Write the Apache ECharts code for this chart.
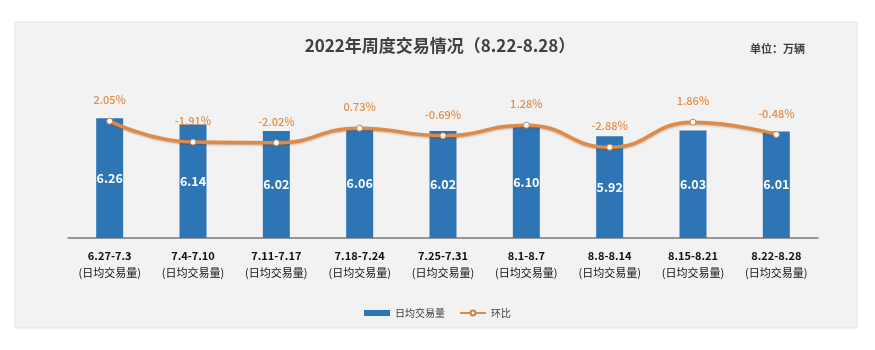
<!DOCTYPE html>
<html><head><meta charset="utf-8">
<script src="https://cdn.jsdelivr.net/npm/echarts@6/dist/echarts.min.js"></script>
<style>html,body{margin:0;padding:0;background:#fff}#c{width:875px;height:350px}</style>
</head><body><div id="c"></div>
<script>
const categories = ['6.27-7.3','7.4-7.10','7.11-7.17','7.18-7.24','7.25-7.31','8.1-8.7','8.8-8.14','8.15-8.21','8.22-8.28'];
const subLabel = '(日均交易量)';
const volume = [6.26, 6.14, 6.02, 6.06, 6.02, 6.10, 5.92, 6.03, 6.01];
const change = [2.05, -1.91, -2.02, 0.73, -0.69, 1.28, -2.88, 1.86, -0.48];
const titleText = '2022年周度交易情况（8.22-8.28）';
const unitText = '单位：万辆';

const FONT = '"Noto Sans CJK SC", "Noto Sans", sans-serif';
const chart = echarts.init(document.getElementById('c'), null, {renderer:'canvas'});
chart.setOption({
  backgroundColor: '#ffffff',
  textStyle: {fontFamily: FONT},
  animation: false,
  graphic: [{
    type: 'rect', z: -10, silent: true,
    shape: {x: 15, y: 22, width: 842, height: 306},
    style: {fill: '#f2f2f2', stroke: '#e2e2e2', lineWidth: 1}
  }],
  title: [{
    text: titleText, left: 435, top: 32, textAlign: 'center',
    textStyle: {fontSize: 17, fontWeight: 'bold', color: '#404040', fontFamily: FONT}
  },{
    text: unitText, left: 745, top: 38,
    textStyle: {fontSize: 11, fontWeight: 'bold', color: '#404040', fontFamily: FONT}
  }],
  legend: {
    bottom: 27, left: 'center', itemGap: 14, itemWidth: 26, itemHeight: 6,
    textStyle: {fontSize: 10, color: '#404040', fontFamily: FONT},
    data: [
      {name: '日均交易量', icon: 'rect', itemStyle:{color:'#2e75b6'}},
      {name: '环比'}
    ]
  },
  grid: {left: 68, right: 57, top: 26, bottom: 112},
  xAxis: {
    type: 'category', data: categories,
    axisTick: {show: false},
    axisLine: {onZero: false, lineStyle: {color: '#7a7a7a', width: 1.5}},
    axisLabel: {
      margin: 9, interval: 0, lineHeight: 17,
      formatter: v => '{a|' + v + '}\n{b|' + subLabel + '}',
      rich: {
        a: {fontSize: 11, fontWeight: 'bold', color: '#111', fontFamily: FONT, lineHeight: 17},
        b: {fontSize: 11, color: '#111', fontFamily: FONT, lineHeight: 17}
      }
    }
  },
  yAxis: [
    {type: 'value', min: 4, max: 8, show: false, splitLine: {show: false}},
    {type: 'value', min: -20, max: 20, show: false, splitLine: {show: false}}
  ],
  series: [{
    name: '日均交易量', type: 'bar', data: volume, barWidth: 27,
    itemStyle: {color: '#2e75b6'},
    label: {show: true, position: 'inside', color: '#fff', fontWeight: 'bold', fontSize: 12.5,
      fontFamily: FONT, formatter: p => p.value.toFixed(2)}
  },{
    name: '环比', type: 'line', yAxisIndex: 1, data: change, smooth: 0.5,
    symbol: 'circle', symbolSize: 6, z: 5,
    lineStyle: {color: '#df8a47', width: 3.5, shadowColor: 'rgba(120,60,20,0.4)', shadowBlur: 2, shadowOffsetY: 1},
    itemStyle: {color: '#ffffff', borderColor: '#c98148', borderWidth: 1},
    label: {show: true, position: 'top', distance: 12, color: '#e38d48', fontSize: 11,
      fontWeight: 500, fontFamily: FONT, formatter: p => p.value.toFixed(2) + '%'}
  }]
});
</script></body></html>
